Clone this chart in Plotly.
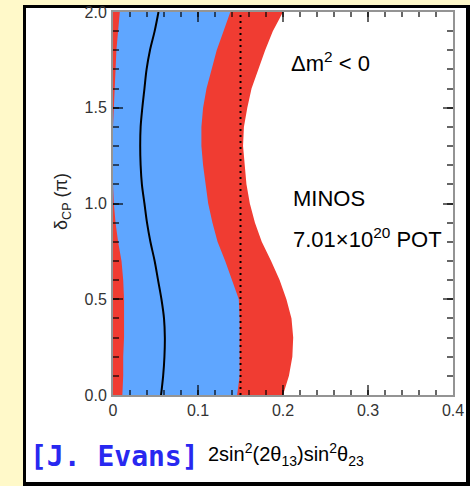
import plotly.graph_objects as go

# ---------------- data ----------------
delta_cp = [0.0, 0.1, 0.2, 0.3, 0.4, 0.5, 0.6, 0.7, 0.8, 0.9, 1.0,
            1.1, 1.2, 1.3, 1.4, 1.5, 1.6, 1.7, 1.8, 1.9, 2.0]
# 68% CL region: left and right boundaries
cl68_left = [0.011, 0.012, 0.012, 0.013, 0.013, 0.013, 0.012, 0.010, 0.006, 0.003, 0.001,
             0.0, 0.0, 0.0, 0.0, 0.001, 0.002, 0.003, 0.004, 0.006, 0.008]
cl68_right = [0.146, 0.149, 0.149, 0.149, 0.149, 0.148, 0.140, 0.132, 0.123, 0.117, 0.112,
              0.109, 0.106, 0.104, 0.104, 0.106, 0.110, 0.116, 0.122, 0.130, 0.138]
# 90% CL region: left and right boundaries
cl90_left = [0.0] * 21
cl90_right = [0.200, 0.207, 0.211, 0.212, 0.210, 0.204, 0.196, 0.186, 0.175, 0.167, 0.161,
              0.157, 0.155, 0.153, 0.154, 0.158, 0.163, 0.171, 0.179, 0.188, 0.200]
# best fit
best_fit = [0.0565, 0.059, 0.0605, 0.061, 0.060, 0.057, 0.053, 0.049, 0.044, 0.040, 0.037,
            0.034, 0.0325, 0.032, 0.0325, 0.0345, 0.037, 0.0395, 0.0435, 0.049, 0.0535]
chooz_limit = 0.15

x_tickvals = [0, 0.1, 0.2, 0.3, 0.4]
x_ticktext = ["0", "0.1", "0.2", "0.3", "0.4"]
y_tickvals = [0, 0.5, 1.0, 1.5, 2.0]
y_ticktext = ["0.0", "0.5", "1.0", "1.5", "2.0"]

RED = "#F03C32"
BLUE = "#5FA6FF"
YELLOW = "#FFF9C9"
FONT = "Liberation Sans, Arial, sans-serif"

fig = go.Figure()

# 90% CL (red)
fig.add_trace(go.Scatter(
    x=cl90_right + cl90_left[::-1], y=delta_cp + delta_cp[::-1],
    fill="toself", fillcolor=RED, line=dict(width=0), mode="lines",
    hoverinfo="skip", showlegend=False))
# 68% CL (blue)
fig.add_trace(go.Scatter(
    x=cl68_right + cl68_left[::-1], y=delta_cp + delta_cp[::-1],
    fill="toself", fillcolor=BLUE, line=dict(width=0), mode="lines",
    hoverinfo="skip", showlegend=False))
# best fit
fig.add_trace(go.Scatter(
    x=best_fit, y=delta_cp, mode="lines", line=dict(color="black", width=2),
    line_shape="spline", showlegend=False))
# CHOOZ limit dotted
fig.add_trace(go.Scatter(
    x=[chooz_limit, chooz_limit], y=[delta_cp[0], delta_cp[-1]], mode="lines",
    line=dict(color="black", width=2, dash="2px,4px"), showlegend=False))

W, H = 470, 486
L, R, T, B = 113, 17, 12, 91
pw, ph = W - L - R, H - T - B


def px(xp):
    return (xp - L) / pw


def py(yp):
    return (H - B - yp) / ph


axis_common = dict(
    showgrid=False, zeroline=False, showline=True, linecolor="rgba(0,0,0,0.42)",
    linewidth=2, mirror="allticks", ticks="inside", tickcolor="rgba(0,0,0,0.6)",
    tickwidth=2, ticklen=10, automargin=False,
    tickfont=dict(family=FONT, size=16, color="#333333"),
)

fig.update_xaxes(range=[0, 0.4], tickvals=x_tickvals, ticktext=x_ticktext,
                 minor=dict(dtick=0.02, ticks="inside", ticklen=5, tickwidth=2,
                            tickcolor="rgba(0,0,0,0.6)"),
                 **axis_common)
fig.update_yaxes(range=[0, 2], tickvals=y_tickvals, ticktext=y_ticktext,
                 minor=dict(dtick=0.1, ticks="inside", ticklen=6, tickwidth=2,
                            tickcolor="rgba(0,0,0,0.6)"),
                 ticklabelstandoff=1,
                 **axis_common)

shapes = [
    dict(type="rect", xref="paper", yref="paper", x0=px(23), x1=px(470), y0=py(486), y1=py(5),
         fillcolor="black", line=dict(width=0), layer="below"),
    dict(type="rect", xref="paper", yref="paper", x0=px(26), x1=px(466), y0=py(482), y1=py(8),
         fillcolor="white", line=dict(width=0), layer="below"),
]

annotations = [
    dict(text="Δm<sup>2</sup> < 0", x=px(289), y=py(62), xanchor="left", yanchor="middle",
         font=dict(family=FONT, size=22, color="black")),
    dict(text="MINOS", x=px(291), y=py(198), xanchor="left", yanchor="middle",
         font=dict(family=FONT, size=22, color="black")),
    dict(text="7.01×10<sup>20</sup> POT", x=px(291), y=py(238), xanchor="left", yanchor="middle",
         font=dict(family=FONT, size=22, color="black")),
    dict(text="δ<sub>CP</sub> (π)", x=px(62), y=py(202), xanchor="center", yanchor="middle",
         textangle=-90, font=dict(family=FONT, size=18, color="#222222")),
    dict(text="[J. Evans]", x=px(28), y=py(457), xanchor="left", yanchor="middle",
         font=dict(family="DejaVu Sans Mono", size=28, color="#2828F0", weight="bold")),
    dict(text="2sin<sup>2</sup>(2θ<sub>13</sub>)sin<sup>2</sup>θ<sub>23</sub>",
         x=px(206), y=py(455), xanchor="left", yanchor="middle",
         font=dict(family=FONT, size=20, color="black")),
]
for a in annotations:
    a.update(xref="paper", yref="paper", showarrow=False)

fig.update_layout(
    width=W, height=H, margin=dict(l=L, r=R, t=T, b=B, pad=0),
    paper_bgcolor=YELLOW, plot_bgcolor="white",
    shapes=shapes, annotations=annotations, showlegend=False,
)

fig.write_html("out.html")
